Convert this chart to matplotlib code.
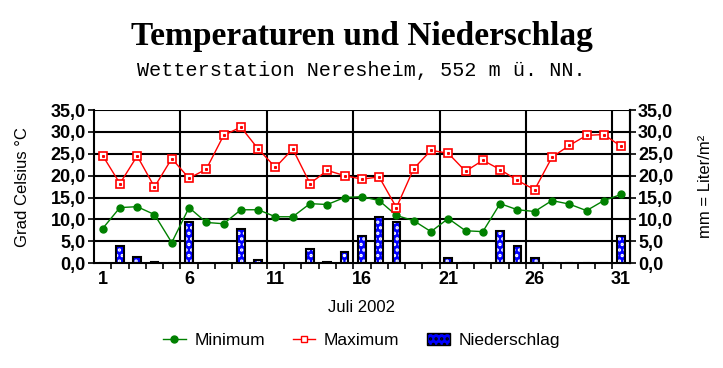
import matplotlib
matplotlib.use("Agg")
import matplotlib.pyplot as plt
import numpy as np
from matplotlib.lines import Line2D
from matplotlib.patches import Patch

days = list(range(1, 32))
t_min = [7.9, 12.7, 12.9, 11.1, 4.7, 12.7, 9.3, 9.0, 12.2, 12.2,
         10.6, 10.6, 13.6, 13.4, 15.0, 15.2, 14.3, 10.9, 9.7, 7.2,
         10.2, 7.4, 7.2, 13.6, 12.2, 11.8, 14.3, 13.5, 12.0, 14.3, 15.7]
t_max = [24.6, 18.2, 24.5, 17.4, 23.9, 19.4, 21.5, 29.2, 31.1, 26.1,
         21.9, 26.1, 18.2, 21.2, 20.0, 19.2, 19.7, 12.7, 21.6, 25.8,
         25.1, 21.0, 23.5, 21.4, 18.9, 16.8, 24.2, 26.9, 29.2, 29.4, 26.7]
rain = [0.0, 3.8, 1.5, 0.2, 0.0, 9.3, 0.0, 0.0, 7.9, 0.6,
        0.0, 0.0, 3.3, 0.3, 2.6, 6.1, 10.6, 9.5, 0.0, 0.0,
        1.2, 0.0, 0.0, 7.4, 3.8, 1.2, 0.0, 0.0, 0.0, 0.0, 6.1]
tick_days = [1, 6, 11, 16, 21, 26, 31]

plt.rcParams["font.family"] = "Liberation Sans"
plt.rcParams["hatch.linewidth"] = 1.6

fig = plt.figure(figsize=(7.23, 3.68), dpi=100)
ax = fig.add_axes([0.130, 0.285, 0.741, 0.416])

x = np.array(days)

# Niederschlag: blaue Balken mit weissen Punkten
ax.bar(x, rain, width=0.45, facecolor="#0000ff", edgecolor="white",
       hatch="...", linewidth=0, zorder=3)
ax.bar(x, rain, width=0.45, fill=False, edgecolor="black", linewidth=1.5, zorder=4)

ax.plot(x, t_min, color="#008000", lw=1, marker="o", ms=5,
        mfc="#008000", mec="#008000", zorder=5)
ax.plot(x, t_max, color="red", lw=1, marker="s", ms=5.5,
        mfc="white", mec="red", mew=1.2, zorder=5)
ax.plot(x, t_max, ls="none", marker="s", ms=1.2, color="red", zorder=6)

ax.set_xlim(0.5, 31.5)
ax.set_ylim(0, 35)
yt = np.arange(0, 36, 5)
ylabels = [f"{v:.1f}".replace(".", ",") for v in yt]
ax.set_yticks(yt)
ax.set_yticklabels(ylabels, fontsize=13, fontweight="bold")
ax.set_xticks(tick_days)
ax.set_xticklabels([str(d) for d in tick_days], fontsize=13, fontweight="bold")
ax.set_xticks(np.arange(1.5, 31, 1), minor=True)
ax.tick_params(axis="x", which="major", length=0, pad=6)
ax.tick_params(axis="x", which="minor", length=4, width=1.2, direction="out")
ax.tick_params(axis="y", length=4, width=1.2, direction="out", pad=2)

for v in yt[1:]:
    ax.axhline(v, color="black", lw=1.5, zorder=1)
for v in [5.5, 10.5, 15.5, 20.5, 25.5, 30.5]:
    ax.axvline(v, color="black", lw=1.5, zorder=1)

for s in ["left", "bottom", "right"]:
    ax.spines[s].set_linewidth(1.5)
ax.spines["top"].set_visible(False)

ax2 = ax.twinx()
ax2.set_ylim(0, 35)
ax2.set_yticks(yt)
ax2.set_yticklabels(ylabels, fontsize=13, fontweight="bold")
ax2.tick_params(axis="y", length=4, width=1.2, direction="out", pad=2)
for s in ["left", "top", "bottom"]:
    ax2.spines[s].set_visible(False)
ax2.spines["right"].set_linewidth(1.5)

ax.set_ylabel("Grad Celsius °C", fontsize=12, labelpad=15)
ax2.set_ylabel("mm = Liter/m²", fontsize=12, labelpad=18)
ax.set_xlabel("Juli 2002", fontsize=12, labelpad=8)

fig.text(0.5, 0.900, "Temperaturen und Niederschlag", ha="center", va="center",
         fontsize=24, fontweight="bold", family="Liberation Serif")
fig.text(0.5, 0.808, "Wetterstation Neresheim, 552 m ü. NN.", ha="center",
         va="center", fontsize=14.5, family="Liberation Mono")

handles = [
    Line2D([], [], color="#008000", marker="o", ms=5, lw=1),
    Line2D([], [], color="red", marker="s", ms=5, mfc="white", lw=1),
    Patch(facecolor="#0000ff", edgecolor="black", hatch="...", lw=1),
]
fig.legend(handles, ["Minimum", "Maximum", "Niederschlag"], loc="center",
           bbox_to_anchor=(0.5, 0.075), ncol=3, frameon=False, fontsize=12.5,
           handlelength=1.3, columnspacing=1.6, handletextpad=0.5)

fig.savefig("out.png", dpi=100)
